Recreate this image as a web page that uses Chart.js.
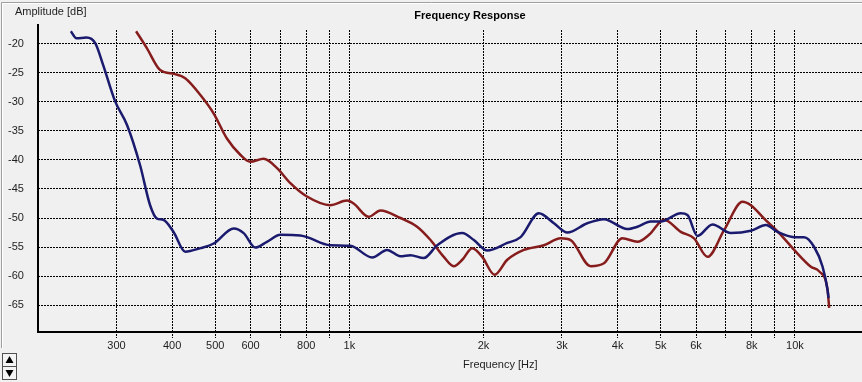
<!DOCTYPE html>
<html>
<head>
<meta charset="utf-8">
<script src="https://cdn.jsdelivr.net/npm/chart.js@4"></script>
<style>
  html, body { margin: 0; padding: 0; background: #f0f0f0; overflow: hidden; }
  #wrap { width: 862px; height: 382px; position: relative; }
</style>
</head>
<body>
<div id="wrap"><canvas id="c" width="862" height="382"></canvas></div>
<script>
// ---- data ----
const chartTitle = "Frequency Response";
const yAxisTitle = "Amplitude [dB]";
const xAxisTitle = "Frequency [Hz]";

const blueFreq = [237, 244, 257, 269, 280, 298, 317, 339, 357, 370, 382, 403, 428, 463, 496, 550, 579, 615, 653, 700, 776, 803, 906, 1005, 1125, 1215, 1302, 1371, 1469, 1575, 1792, 1903, 2039, 2262, 2423, 2663, 2878, 3085, 3420, 3728, 4207, 4432, 4747, 5000, 5544, 5740, 6043, 6533, 7183, 7963, 8610, 9146, 9963, 10490, 11050, 11540, 11840, 11900];
const blueDb   = [-17.8, -19.0, -18.9, -19.9, -23.6, -29.9, -34.0, -40.9, -47.8, -50.1, -50.3, -52.4, -55.8, -55.2, -54.4, -51.8, -52.6, -55.1, -54.1, -52.9, -53.0, -53.3, -54.7, -54.8, -56.8, -55.5, -56.6, -56.4, -56.9, -54.7, -52.6, -53.8, -55.6, -54.3, -53.3, -49.2, -50.9, -52.5, -50.9, -50.2, -51.9, -51.5, -50.6, -50.6, -49.2, -49.5, -53.1, -51.1, -52.6, -52.2, -51.2, -52.4, -53.3, -53.3, -55.0, -58.4, -62.4, -63.8];

const redFreq = [332, 351, 376, 406, 428, 463, 496, 531, 569, 599, 642, 688, 737, 803, 906, 988, 1022, 1105, 1174, 1302, 1419, 1521, 1629, 1715, 1792, 1887, 1987, 2118, 2262, 2464, 2733, 2980, 3138, 3479, 3728, 4100, 4432, 4705, 5086, 5544, 5939, 6365, 6936, 7630, 7963, 8531, 9301, 9963, 10862, 11339, 11840, 11940];
const redDb   = [-17.8, -20.7, -24.5, -25.2, -25.9, -28.8, -32.0, -36.3, -39.1, -40.3, -39.8, -41.4, -44.0, -46.3, -47.8, -47.0, -47.5, -49.8, -48.7, -50.0, -51.5, -53.8, -56.7, -58.3, -57.2, -55.2, -56.7, -59.8, -57.2, -55.5, -54.7, -53.5, -53.8, -58.3, -57.8, -53.5, -54.1, -52.9, -50.3, -52.4, -53.5, -56.7, -52.1, -47.2, -47.8, -50.1, -52.9, -55.5, -58.4, -59.2, -62.4, -65.5];

const xTickValues = [300, 400, 500, 600, 700, 800, 900, 1000, 2000, 3000, 4000, 5000, 6000, 7000, 8000, 9000, 10000];
const xTickLabels = ["300", "400", "500", "600", "", "800", "", "1k", "2k", "3k", "4k", "5k", "6k", "", "8k", "", "10k"];
const yTickValues = [-65, -60, -55, -50, -45, -40, -35, -30, -25, -20];
const yTickLabels = ["-65", "-60", "-55", "-50", "-45", "-40", "-35", "-30", "-25", "-20"];

const xMin = 200, xMax = 14147;
const yMin = -69.48, yMax = -17.59;

// ---- chart ----
const FONT = "'Liberation Sans', Arial, sans-serif";
Chart.defaults.font.family = FONT;
Chart.defaults.font.size = 11;
Chart.defaults.color = "#1e1e1e";

const toPts = (xs, ys) => xs.map((x, i) => ({ x: x, y: ys[i] }));

const decor = {
  id: 'decor',
  afterDraw(chart) {
    const ctx = chart.ctx;
    const a = chart.chartArea;
    ctx.save();
    // window frame
    ctx.strokeStyle = '#a0a0a0';
    ctx.lineWidth = 1;
    ctx.beginPath();
    ctx.moveTo(862, 2.5); ctx.lineTo(1.5, 2.5); ctx.lineTo(1.5, 348);
    ctx.stroke();
    ctx.strokeStyle = '#ffffff';
    ctx.beginPath();
    ctx.moveTo(862, 3.5); ctx.lineTo(2.5, 3.5); ctx.lineTo(2.5, 348);
    ctx.stroke();
    // axis lines
    ctx.strokeStyle = '#000';
    ctx.lineWidth = 2;
    ctx.beginPath();
    ctx.moveTo(a.left, a.top - 6);
    ctx.lineTo(a.left, a.bottom + 1);
    ctx.lineTo(a.right + 1, a.bottom + 1);
    ctx.stroke();
    // texts
    ctx.fillStyle = '#000';
    ctx.textBaseline = 'middle';
    ctx.font = 'bold 11px ' + FONT;
    ctx.textAlign = 'center';
    ctx.fillText(chartTitle, 470, 16);
    ctx.font = '11px ' + FONT;
    ctx.textAlign = 'left';
    ctx.fillStyle = '#1e1e1e';
    ctx.fillText(yAxisTitle, 15, 12);
    ctx.fillText(xAxisTitle, 463, 365);
    // spinner control
    ctx.lineWidth = 1;
    ctx.strokeStyle = '#505050';
    ctx.fillStyle = '#f4f4f4';
    ctx.fillRect(2.5, 353.5, 14, 13);
    ctx.fillRect(2.5, 366.5, 14, 13);
    ctx.strokeRect(2.5, 353.5, 14, 13);
    ctx.strokeRect(2.5, 366.5, 14, 13);
    ctx.fillStyle = '#000';
    ctx.beginPath();
    ctx.moveTo(9.5, 356); ctx.lineTo(13.5, 363); ctx.lineTo(5.5, 363); ctx.closePath();
    ctx.fill();
    ctx.beginPath();
    ctx.moveTo(5.5, 370); ctx.lineTo(13.5, 370); ctx.lineTo(9.5, 377); ctx.closePath();
    ctx.fill();
    ctx.restore();
  }
};

new Chart(document.getElementById('c'), {
  type: 'line',
  data: {
    datasets: [
      {
        label: 'Blue',
        data: toPts(blueFreq, blueDb),
        borderColor: '#1a1a6e',
        borderWidth: 2.5,
        pointRadius: 0,
        cubicInterpolationMode: 'monotone',
        fill: false
      },
      {
        label: 'Red',
        data: toPts(redFreq, redDb),
        borderColor: '#861c1c',
        borderWidth: 2.5,
        pointRadius: 0,
        cubicInterpolationMode: 'monotone',
        fill: false
      }
    ]
  },
  options: {
    responsive: false,
    animation: false,
    devicePixelRatio: 1,
    layout: { padding: { left: 8, right: 0, top: 30, bottom: 0 } },
    plugins: {
      legend: { display: false },
      title: { display: false },
      tooltip: { enabled: false }
    },
    scales: {
      x: {
        type: 'logarithmic',
        min: xMin,
        max: xMax,
        afterBuildTicks: (s) => { s.ticks = xTickValues.map(v => ({ value: v })); },
        afterFit: (s) => { s.height = 51; },
        ticks: {
          autoSkip: false,
          maxRotation: 0,
          padding: 1,
          color: '#1e1e1e',
          callback: (v, i) => xTickLabels[i]
        },
        grid: {
          color: '#000',
          lineWidth: 1,
          drawTicks: true,
          tickLength: 7,
          tickColor: '#000',
          tickBorderDash: [2, 1]
        },
        border: { display: false, dash: [2, 1] }
      },
      y: {
        type: 'linear',
        min: yMin,
        max: yMax,
        afterBuildTicks: (s) => { s.ticks = yTickValues.map(v => ({ value: v })); },
        afterFit: (s) => { s.width = 30; },
        ticks: {
          autoSkip: false,
          crossAlign: 'far',
          padding: 0,
          color: '#1e1e1e',
          callback: (v, i) => yTickLabels[i]
        },
        grid: {
          color: '#000',
          lineWidth: 1,
          drawTicks: false
        },
        border: { display: false, dash: [2, 1] }
      }
    }
  },
  plugins: [decor]
});
</script>
</body>
</html>
